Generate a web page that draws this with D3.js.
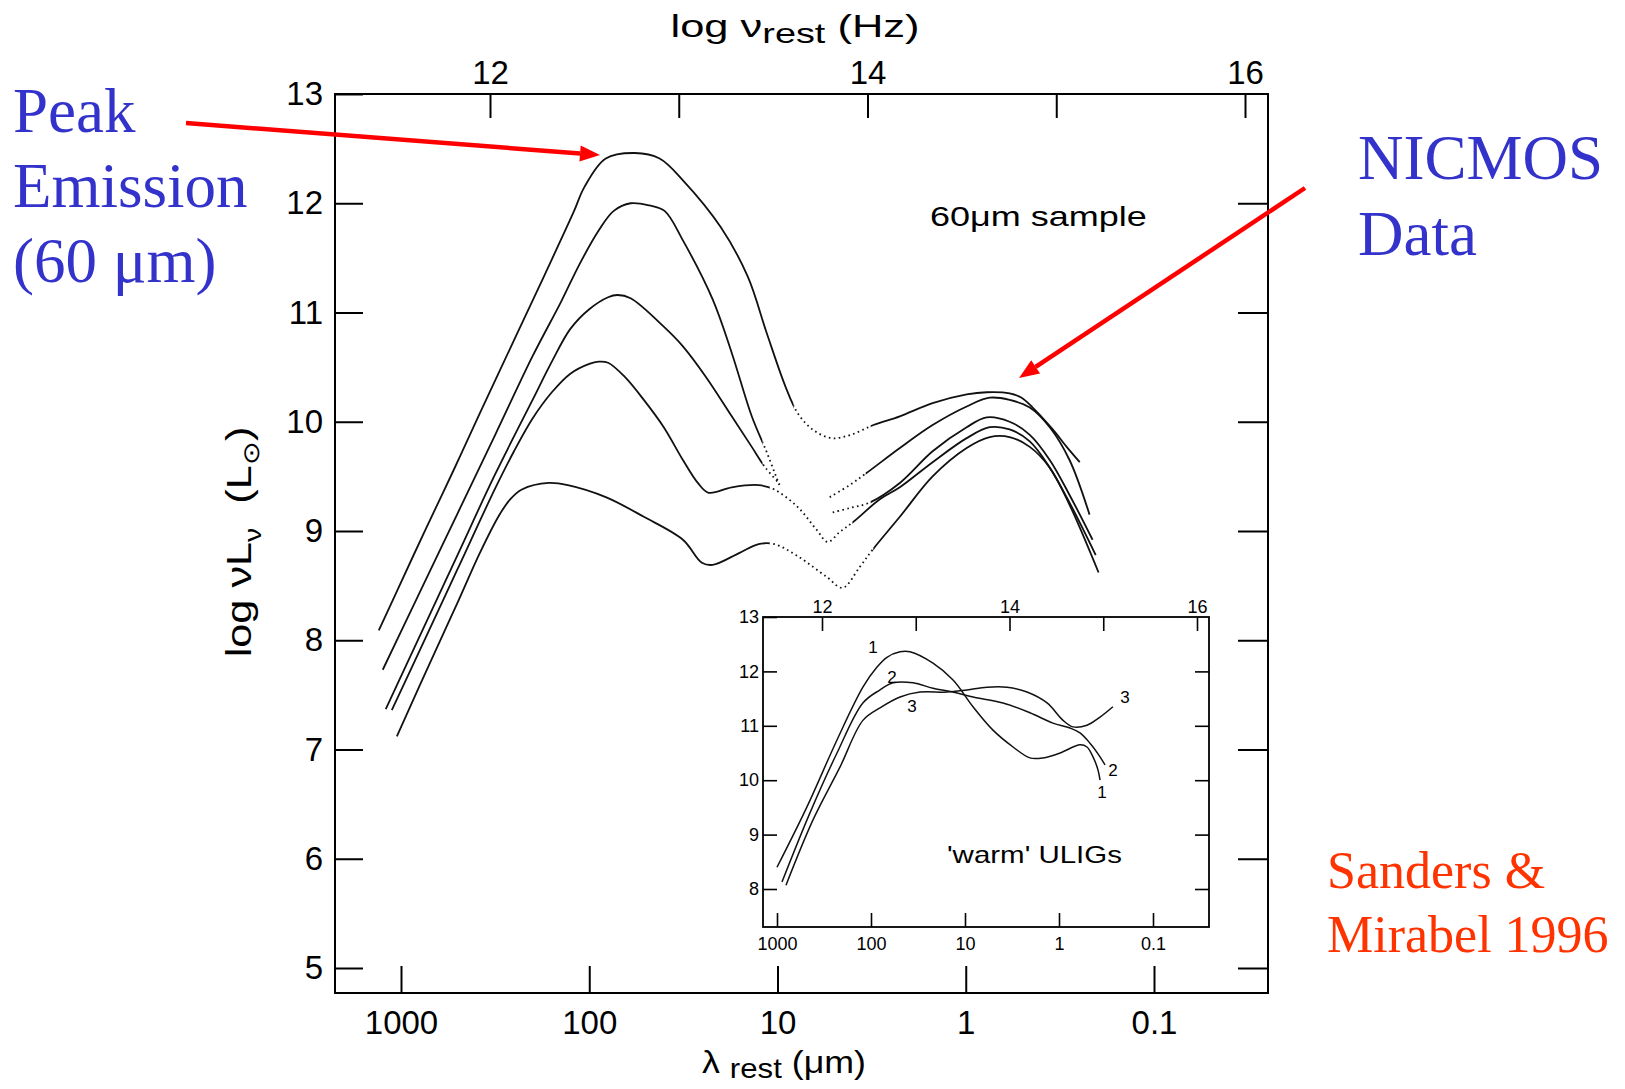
<!DOCTYPE html>
<html>
<head>
<meta charset="utf-8">
<style>
body { margin: 0; background: #fff; }
svg text { font-family: "Liberation Sans", Arial, Helvetica, sans-serif; fill: #000; }
.axis .domain { display: none; }
.axis line { stroke: #000; stroke-width: 2; }
.inset .axis line { stroke-width: 1.6; }
</style>
</head>
<body>
<svg width="1625" height="1089"></svg>
<script src="https://cdn.jsdelivr.net/npm/d3@7"></script>
<script>
// main panel, "60um sample": wavelength (um) and log nuLnu (Lsun) for five SEDs
var lamA = [1312, 1064, 738, 531, 381, 252, 172, 121, 106, 81.7, 57.3, 42.3, 31.8, 20.0, 14.4, 11.4, 9.06, 7.82, 6.52, 5.16, 4.09, 3.09, 2.24, 1.50, 0.989, 0.774, 0.585, 0.505, 0.441, 0.345, 0.291, 0.248];
var lumA = [8.09, 8.43, 9.02, 9.54, 10.08, 10.74, 11.35, 11.92, 12.15, 12.41, 12.46, 12.41, 12.21, 11.78, 11.33, 10.81, 10.32, 10.08, 9.93, 9.85, 9.88, 9.97, 10.05, 10.17, 10.25, 10.27, 10.26, 10.22, 10.13, 9.93, 9.77, 9.63];
var lamB = [1250, 794, 501, 316, 200, 141, 112, 89.1, 74.1, 60.3, 47.9, 39.8, 31.8, 22.1, 17.5, 13.7, 11.4, 9.73, 7.0, 5.28, 4.14, 3.37, 2.24, 1.50, 0.989, 0.746, 0.585, 0.457, 0.358, 0.281, 0.220];
var lumB = [7.73, 8.44, 9.16, 9.88, 10.6, 11.1, 11.45, 11.75, 11.93, 12.0, 11.98, 11.93, 11.66, 11.12, 10.63, 10.05, 9.72, 9.41, null, 9.31, 9.42, 9.53, 9.76, 9.97, 10.14, 10.22, 10.20, 10.13, 9.95, 9.65, 9.15];
var lamC = [1205, 794, 501, 316, 200, 158, 126, 100, 79.4, 70.8, 60.3, 40.2, 31.8, 24.0, 17.5, 13.7, 11.6, 9.73, 7.0, 5.09, 4.14, 3.24, 2.24, 1.50, 0.989, 0.774, 0.585, 0.457, 0.358, 0.281, 0.212];
var lumC = [7.37, 8.04, 8.78, 9.52, 10.2, 10.55, 10.85, 11.03, 11.14, 11.16, 11.13, 10.87, 10.69, 10.41, 10.05, 9.77, 9.58, 9.43, null, 9.17, 9.21, 9.26, 9.44, 9.73, 9.95, 10.04, 10.0, 9.88, 9.65, 9.33, 8.92];
var lamD = [1119, 794, 501, 316, 251, 200, 158, 126, 100, 89.1, 79.4, 64.7, 51.3, 40.2, 31.8, 26.5, 23.2, 17.5, 12.6, 10.4, 7.82, 6.19, 5.41, 4.68, 3.98, 2.86, 2.24, 1.50, 0.989, 0.746, 0.585, 0.457, 0.358, 0.281, 0.204];
var lumD = [7.36, 7.91, 8.65, 9.39, 9.73, 10.03, 10.27, 10.44, 10.53, 10.55, 10.54, 10.41, 10.20, 9.95, 9.65, 9.44, 9.35, 9.40, 9.42, 9.38, 9.22, 9.01, 8.90, 8.99, 9.08, 9.29, 9.40, 9.63, 9.85, 9.95, 9.93, 9.82, 9.58, 9.26, 8.78];
var lamE = [1052, 794, 622, 493, 381, 302, 263, 228, 164, 130, 81.7, 51.3, 31.8, 25.2, 22.1, 15.9, 12.6, 10.4, 7.82, 5.48, 4.51, 3.66, 3.12, 2.24, 1.50, 0.989, 0.746, 0.585, 0.457, 0.358, 0.281, 0.197];
var lumE = [7.12, 7.59, 7.99, 8.37, 8.80, 9.14, 9.29, 9.38, 9.44, 9.42, 9.31, 9.13, 8.92, 8.71, 8.69, 8.80, 8.88, 8.88, 8.77, 8.58, 8.48, 8.67, 8.83, 9.13, 9.50, 9.76, 9.86, 9.86, 9.77, 9.58, 9.24, 8.62];
// wavelength range (um) where each SED is interpolated (drawn dotted)
var dotA = [3.2, 8.2], dotB = [3.4, 12], dotC = [3.2, 12], dotD = [4.0, 11], dotE = [3.1, 11];

// inset, "'warm' ULIGs"
var lam1 = [1000, 480, 230, 122, 86.3, 67.6, 49.1, 38.5, 21.9, 13.4, 8.22, 5.04, 3.08, 2.04, 1.48, 0.975, 0.598, 0.504, 0.435, 0.385, 0.366];
var lum1 = [8.40, 9.51, 10.74, 11.71, 12.08, 12.26, 12.36, 12.36, 12.15, 11.84, 11.35, 10.92, 10.61, 10.41, 10.41, 10.50, 10.65, 10.61, 10.43, 10.19, 10.0];
var lam2 = [885, 446, 230, 122, 80.2, 58.3, 35.7, 21.9, 13.4, 8.22, 3.94, 2.04, 1.16, 0.764, 0.598, 0.468, 0.366, 0.324];
var lum2 = [8.13, 9.40, 10.5, 11.42, 11.66, 11.79, 11.79, 11.69, 11.62, 11.53, 11.42, 11.24, 11.05, 10.96, 10.87, 10.68, 10.43, 10.28];
var lam3 = [802, 414, 214, 122, 80.2, 49.1, 30.1, 15.5, 9.53, 5.83, 3.57, 2.19, 1.34, 0.906, 0.710, 0.504, 0.366, 0.267];
var lum3 = [8.07, 9.27, 10.24, 11.10, 11.33, 11.53, 11.62, 11.62, 11.66, 11.71, 11.71, 11.62, 11.42, 11.10, 10.98, 11.01, 11.16, 11.35];
var insetLabelText = ["1", "2", "3", "3", "2", "1"];
var insetLabelLam = [95.3, 59.8, 36.6, 0.199, 0.267, 0.349];
var insetLabelLum = [12.45, 11.90, 11.36, 11.53, 10.19, 9.78];

// ticks
var lumTicks = [5, 6, 7, 8, 9, 10, 11, 12, 13];
var nuTicks = [12, 13, 14, 15, 16];
var lamTicks = [1000, 100, 10, 1, 0.1];
var insetLumTicks = [8, 9, 10, 11, 12, 13];

var svg = d3.select("svg");
var defs = svg.append("defs");

// ---------- main panel ----------
var x = d3.scaleLog().domain([1000, 0.1]).range([401, 1154]);
var xNu = d3.scaleLinear().domain([12, 16]).range([490, 1245]);
var y = d3.scaleLinear().domain([5, 13]).range([968, 94]);
var fL = 335, fR = 1268, fT = 94, fB = 993;

svg.append("rect")
    .attr("x", fL).attr("y", fT).attr("width", fR - fL).attr("height", fB - fT)
    .attr("fill", "none").attr("stroke", "#000").attr("stroke-width", 2);

function styleTicks(g, size) {
  g.selectAll("text").attr("font-size", size).attr("font-family", null);
}

svg.append("g").attr("class", "axis").attr("transform", "translate(" + fL + ",0)")
    .call(d3.axisLeft(y).tickValues(lumTicks).tickSize(-28).tickPadding(12).tickFormat(d3.format("d")))
    .call(styleTicks, 33);
svg.append("g").attr("class", "axis").attr("transform", "translate(" + fR + ",0)")
    .call(d3.axisRight(y).tickValues(lumTicks.slice(0, -1)).tickSize(-30).tickFormat(""));
svg.append("g").attr("class", "axis").attr("transform", "translate(0," + fT + ")")
    .call(d3.axisTop(xNu).tickValues(nuTicks).tickSize(-24).tickPadding(10)
      .tickFormat(function(d) { return d % 2 === 0 ? d : ""; }))
    .call(styleTicks, 33);
svg.append("g").attr("class", "axis").attr("transform", "translate(0," + fB + ")")
    .call(d3.axisBottom(x).tickValues(lamTicks).tickSize(-27).tickPadding(18)
      .tickFormat(function(d) { return String(d); }))
    .call(styleTicks, 33);

var line = d3.line()
    .defined(function(d) { return d[1] != null; })
    .x(function(d) { return x(d[0]); })
    .y(function(d) { return y(d[1]); })
    .curve(d3.curveCatmullRom.alpha(0.5));

var seds = [
  {lam: lamA, lum: lumA, dot: dotA},
  {lam: lamB, lum: lumB, dot: dotB},
  {lam: lamC, lum: lumC, dot: dotC},
  {lam: lamD, lum: lumD, dot: dotD},
  {lam: lamE, lum: lumE, dot: dotE}
];

var curves = svg.append("g");
seds.forEach(function(s, i) {
  var pts = d3.zip(s.lam, s.lum);
  var xa = x(s.dot[1]), xb = x(s.dot[0]);
  var cs = defs.append("clipPath").attr("id", "solid" + i);
  cs.append("rect").attr("x", 0).attr("y", 0).attr("width", xa).attr("height", 1089);
  cs.append("rect").attr("x", xb).attr("y", 0).attr("width", 1625 - xb).attr("height", 1089);
  var cd = defs.append("clipPath").attr("id", "dots" + i);
  cd.append("rect").attr("x", xa).attr("y", 0).attr("width", xb - xa).attr("height", 1089);

  curves.append("path").datum(pts)
      .attr("d", line).attr("clip-path", "url(#solid" + i + ")")
      .attr("fill", "none").attr("stroke", "#111").attr("stroke-width", 1.8);
  curves.append("path").datum(pts)
      .attr("d", line).attr("clip-path", "url(#dots" + i + ")")
      .attr("fill", "none").attr("stroke", "#111").attr("stroke-width", 1.8)
      .attr("stroke-dasharray", "1.6,3.4");
});

function stretch(t, w, base) {
  var len = t.node().getComputedTextLength();
  t.attr("transform", base + " scale(" + (w / len) + ",1)");
}

// axis titles
var tTop = svg.append("text").attr("text-anchor", "middle").attr("font-size", 31);
tTop.append("tspan").text("log  \u03bd");
tTop.append("tspan").attr("font-size", 27).attr("dy", 6).text("rest");
tTop.append("tspan").attr("dy", -6).text(" (Hz)");
stretch(tTop, 249, "translate(795,37)");

var tBot = svg.append("text").attr("text-anchor", "middle").attr("font-size", 31);
tBot.append("tspan").text("\u03bb ");
tBot.append("tspan").attr("font-size", 27).attr("dy", 5).text("rest");
tBot.append("tspan").attr("dy", -5).text("  (\u03bcm)");
stretch(tBot, 164, "translate(784,1073)");

var tLeft = svg.append("text").attr("text-anchor", "middle").attr("font-size", 35);
tLeft.append("tspan").text("log \u03bdL");
tLeft.append("tspan").attr("font-size", 23).attr("dy", 10).text("\u03bd");
tLeft.append("tspan").attr("dy", -10).text("\u00a0\u00a0(L");
tLeft.append("tspan").attr("font-size", 23).attr("dy", 8).text("\u2299");
tLeft.append("tspan").attr("dy", -8).text(")");
stretch(tLeft, 230, "translate(251,542) rotate(-90)");

var tSample = svg.append("text").attr("font-size", 28).text("60\u03bcm sample");
stretch(tSample, 217, "translate(930,226)");

// ---------- inset ----------
var inset = svg.append("g").attr("class", "inset");
var xi = d3.scaleLog().domain([1000, 0.1]).range([777, 1153]);
var xiNu = d3.scaleLinear().domain([12, 16]).range([822, 1197]);
var yi = d3.scaleLinear().domain([8, 13]).range([889, 617]);
var iL = 763, iR = 1209, iT = 617, iB = 927;

inset.append("rect")
    .attr("x", iL).attr("y", iT).attr("width", iR - iL).attr("height", iB - iT)
    .attr("fill", "#fff").attr("stroke", "#000").attr("stroke-width", 1.8);

inset.append("g").attr("class", "axis").attr("transform", "translate(" + iL + ",0)")
    .call(d3.axisLeft(yi).tickValues(insetLumTicks).tickSize(-14).tickPadding(4).tickFormat(d3.format("d")))
    .call(styleTicks, 18);
inset.append("g").attr("class", "axis").attr("transform", "translate(" + iR + ",0)")
    .call(d3.axisRight(yi).tickValues(insetLumTicks.slice(0, -1)).tickSize(-14).tickFormat(""));
inset.append("g").attr("class", "axis").attr("transform", "translate(0," + iT + ")")
    .call(d3.axisTop(xiNu).tickValues(nuTicks).tickSize(-14).tickPadding(4)
      .tickFormat(function(d) { return d % 2 === 0 ? d : ""; }))
    .call(styleTicks, 18);
inset.append("g").attr("class", "axis").attr("transform", "translate(0," + iB + ")")
    .call(d3.axisBottom(xi).tickValues(lamTicks).tickSize(-14).tickPadding(10)
      .tickFormat(function(d) { return String(d); }))
    .call(styleTicks, 18);

var iline = d3.line()
    .x(function(d) { return xi(d[0]); })
    .y(function(d) { return yi(d[1]); })
    .curve(d3.curveCatmullRom.alpha(0.5));

[[lam1, lum1], [lam2, lum2], [lam3, lum3]].forEach(function(c) {
  inset.append("path").datum(d3.zip(c[0], c[1]))
      .attr("d", iline).attr("fill", "none").attr("stroke", "#111").attr("stroke-width", 1.5);
});

inset.selectAll(".clab").data(insetLabelText).enter().append("text")
    .attr("class", "clab")
    .attr("x", function(d, i) { return xi(insetLabelLam[i]); })
    .attr("y", function(d, i) { return yi(insetLabelLum[i]); })
    .attr("text-anchor", "middle").attr("dy", "0.35em")
    .attr("font-size", 17)
    .text(function(d) { return d; });

var tWarm = inset.append("text").attr("font-size", 23).text("'warm'  ULIGs");
stretch(tWarm, 175, "translate(947,863)");

// ---------- annotations ----------
var ann = svg.append("g");
function arrow(x1, y1, x2, y2) {
  var a = Math.atan2(y2 - y1, x2 - x1), L = 20, W = 8;
  var bx = x2 - L * Math.cos(a), by = y2 - L * Math.sin(a);
  ann.append("line").attr("x1", x1).attr("y1", y1).attr("x2", bx).attr("y2", by)
      .attr("stroke", "#f00").attr("stroke-width", 4.5);
  ann.append("path")
      .attr("d", "M" + x2 + "," + y2 +
        "L" + (bx + W * Math.sin(a)) + "," + (by - W * Math.cos(a)) +
        "L" + (bx - W * Math.sin(a)) + "," + (by + W * Math.cos(a)) + "Z")
      .attr("fill", "#f00");
}
arrow(186, 123, 600, 155);
arrow(1305, 188, 1019, 378);

function note(lines, x0, y0, dy, size, color) {
  lines.forEach(function(s, i) {
    ann.append("text").attr("x", x0).attr("y", y0 + i * dy)
        .style("font-family", "'Liberation Serif', 'Times New Roman', serif")
        .attr("font-size", size).style("fill", color).text(s);
  });
}
note(["Peak", "Emission", "(60 \u03bcm)"], 13, 132, 75, 63, "#3333cc");
note(["NICMOS", "Data"], 1358, 179, 76, 63, "#3333cc");
note(["Sanders &", "Mirabel 1996"], 1327, 888, 64, 52, "#ff3300");
</script>
</body>
</html>
